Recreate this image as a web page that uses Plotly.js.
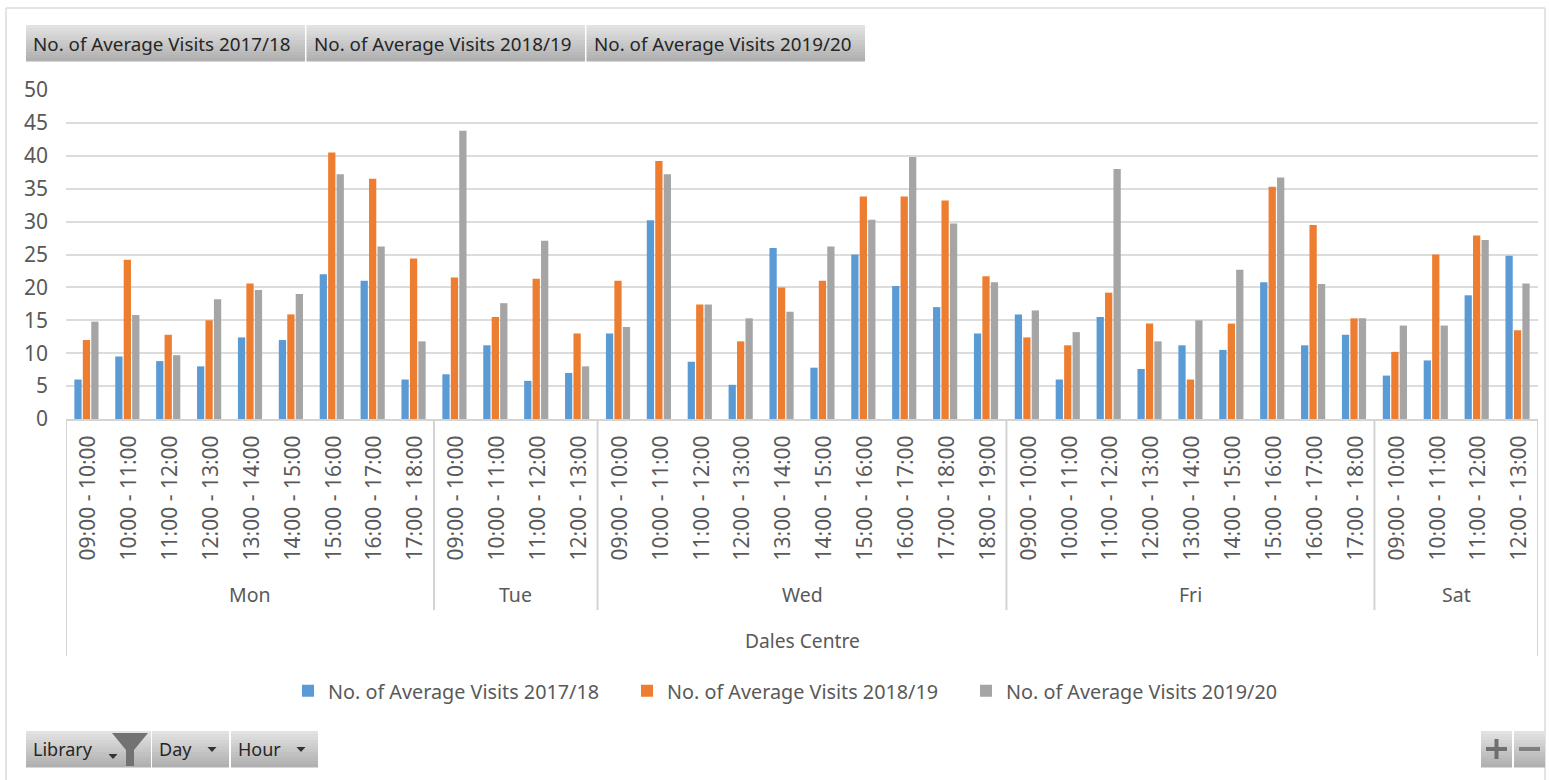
<!DOCTYPE html>
<html><head><meta charset="utf-8">
<script src="https://cdn.plot.ly/plotly-3.0.1.min.js"></script>
<style>html,body{margin:0;padding:0;background:#fff;overflow:hidden}#c{width:1549px;height:780px}</style>
</head><body><div id="c"></div>
<script>
const seriesNames = ['No. of Average Visits 2017/18','No. of Average Visits 2018/19','No. of Average Visits 2019/20'];
const seriesColors = ['#5b9bd5','#ed7d31','#a5a5a5'];
const hours = [
 '09:00 - 10:00','10:00 - 11:00','11:00 - 12:00','12:00 - 13:00','13:00 - 14:00','14:00 - 15:00','15:00 - 16:00','16:00 - 17:00','17:00 - 18:00',
 '09:00 - 10:00','10:00 - 11:00','11:00 - 12:00','12:00 - 13:00',
 '09:00 - 10:00','10:00 - 11:00','11:00 - 12:00','12:00 - 13:00','13:00 - 14:00','14:00 - 15:00','15:00 - 16:00','16:00 - 17:00','17:00 - 18:00','18:00 - 19:00',
 '09:00 - 10:00','10:00 - 11:00','11:00 - 12:00','12:00 - 13:00','13:00 - 14:00','14:00 - 15:00','15:00 - 16:00','16:00 - 17:00','17:00 - 18:00',
 '09:00 - 10:00','10:00 - 11:00','11:00 - 12:00','12:00 - 13:00'];
const days = ['Mon','Tue','Wed','Fri','Sat'];
const dayCounts = [9,4,10,9,4];
const centre = 'Dales Centre';
const visits1718 = [6,9.5,8.8,8,12.4,12,22,21,6, 6.8,11.2,5.8,7, 13,30.2,8.7,5.2,26,7.8,25,20.2,17,13, 15.9,6,15.5,7.6,11.2,10.5,20.8,11.2,12.8, 6.6,8.9,18.8,24.8];
const visits1819 = [12,24.2,12.8,15,20.6,15.9,40.5,36.5,24.4, 21.5,15.5,21.3,13, 21,39.2,17.4,11.8,20,21,33.8,33.8,33.2,21.7, 12.4,11.2,19.2,14.5,6,14.5,35.3,29.5,15.3, 10.2,25,27.9,13.5];
const visits1920 = [14.8,15.8,9.7,18.2,19.6,19,37.2,26.2,11.8, 43.8,17.6,27.1,8, 14,37.2,17.4,15.3,16.3,26.2,30.3,39.8,29.7,20.8, 16.5,13.2,38,11.8,15,22.7,36.7,20.5,15.3, 14.2,14.2,27.2,20.6];
const allSeries = [visits1718,visits1819,visits1920];

const W=1549,H=780,FONT='"Noto Sans", sans-serif',TXT='#595959',LINE='#d4d4d4';
const idx = hours.map((_,i)=>i);
const traces = allSeries.map((v,i)=>({type:'bar',x:idx,y:v,name:seriesNames[i],marker:{color:seriesColors[i],line:{width:0}},hoverinfo:'y+name'}));

const m={l:66,r:11,t:90,b:361};
const PW=W-m.l-m.r,PH=H-m.t-m.b;
const fx=x=>(x-m.l)/PW, fy=y=>(H-m.b-y)/PH;
const shapes=[],annotations=[];
function rect(x0,y0,x1,y1,color){shapes.push({type:'rect',xref:'paper',yref:'paper',x0:fx(x0),x1:fx(x1),y0:fy(y0),y1:fy(y1),fillcolor:color,line:{width:0},layer:'above'});}
function seg(x0,y0,x1,y1,color,w){shapes.push({type:'line',xref:'paper',yref:'paper',x0:fx(x0),x1:fx(x1),y0:fy(y0),y1:fy(y1),line:{color:color,width:w},layer:'above'});}
function label(t,x,y,size,color,anchor){annotations.push({text:t,xref:'paper',yref:'paper',x:fx(x),y:fy(y),xanchor:anchor||'left',yanchor:'middle',showarrow:false,font:{family:FONT,size:size,color:color}});}
function button(x0,y0,x1,y1){
  const n=12;const a=[226,226,226],b=[176,176,176];
  for(let i=0;i<n;i++){const t=i/(n-1);const c=a.map((v,k)=>Math.round(v+(b[k]-v)*t));
    rect(x0,y0+(y1-y0)*i/n,x1,y0+(y1-y0)*(i+1)/n+0.5,`rgb(${c.join(',')})`);}
}
// frame
seg(6,8,1545,8,'#e3e3e3',2); seg(6,8,6,780,'#e3e3e3',2); seg(1545,8,1545,780,'#e3e3e3',2);
// top buttons
[[26,305],[306.5,585],[586.5,865]].forEach((b,i)=>{button(b[0],25,b[1],61);label(seriesNames[i],b[0]+5,44,18.8,'#262626');});
// bottom buttons
[[26,151,'Library',31],[152,229,'Day',157],[231,318,'Hour',236]].forEach(b=>{button(b[0],731,b[1],767);label(b[2],b[3],749,18,'#262626');});
function tri(x,y,w,h,c){shapes.push({type:'path',xref:'paper',yref:'paper',path:`M${fx(x-w/2)},${fy(y)} L${fx(x+w/2)},${fy(y)} L${fx(x)},${fy(y+h)} Z`,fillcolor:c,line:{width:0},layer:'above'});}
tri(113,754,9,5,'#333'); tri(212,747,9,5,'#333'); tri(301,747,9,5,'#333');
// filter icon
shapes.push({type:'path',xref:'paper',yref:'paper',path:`M${fx(112)},${fy(733)} L${fx(148)},${fy(733)} L${fx(134)},${fy(750)} L${fx(134)},${fy(766)} L${fx(126)},${fy(766)} L${fx(126)},${fy(750)} Z`,fillcolor:'#727272',line:{width:0},layer:'above'});
// zoom buttons
button(1481,731,1512,767); button(1514,731,1545,767);
seg(1486,749,1507,749,'#6f6f6f',4); seg(1496.5,739,1496.5,759,'#6f6f6f',4); seg(1519,749,1540,749,'#7f7f7f',4);

// category hierarchy
let pos=0;
const boundary=v=>shapes.push({type:'line',xref:'x',yref:'paper',x0:v,x1:v,y0:fy(419),y1:fy(610),line:{color:LINE,width:2},layer:'above'});
days.forEach((d,i)=>{
  const start=pos-0.5,end=pos+dayCounts[i]-0.5;
  annotations.push({text:d,xref:'x',yref:'paper',x:(start+end)/2,y:fy(594.5),xanchor:'center',yanchor:'middle',showarrow:false,font:{family:FONT,size:19.5,color:TXT}});
  if(i>0) boundary(start);
  pos+=dayCounts[i];
});
[-0.5,35.5].forEach(v=>shapes.push({type:'line',xref:'x',yref:'paper',x0:v,x1:v,y0:fy(419),y1:fy(656),line:{color:LINE,width:2},layer:'above'}));
annotations.push({text:centre,xref:'x',yref:'paper',x:17.5,y:fy(640.5),xanchor:'center',yanchor:'middle',showarrow:false,font:{family:FONT,size:19.2,color:TXT}});

const layout={width:W,height:H,margin:{l:m.l,r:m.r,t:m.t,b:m.b,pad:0},paper_bgcolor:'#fff',plot_bgcolor:'#fff',
 barmode:'group',bargap:0.38,bargroupgap:0.14,showlegend:true,
 font:{family:FONT,color:TXT},
 legend:{orientation:'h',x:fx(288),y:fy(691),xanchor:'left',yanchor:'middle',font:{family:FONT,size:19.8,color:TXT},itemwidth:30,traceorder:'normal',entrywidth:294,entrywidthmode:'pixels',itemsizing:'constant'},
 xaxis:{type:'linear',range:[-0.5,35.5],tickmode:'array',tickvals:idx,ticktext:hours,tickangle:-90,ticklabelshift:2,tickfont:{family:FONT,size:21,color:TXT},ticks:'',showgrid:false,zeroline:false,showline:true,linecolor:LINE,linewidth:2,ticklabelstandoff:6,automargin:false},
 yaxis:{range:[0,50],tickmode:'array',tickvals:[0,5,10,15,20,25,30,35,40,45,50],tickfont:{family:FONT,size:21,color:TXT},gridcolor:'#dcdcdc',gridwidth:2,zeroline:false,showline:false,ticks:'',ticklabelstandoff:17,automargin:false},
 shapes:shapes,annotations:annotations};
Plotly.newPlot('c',traces,layout,{displayModeBar:false,responsive:false});
</script></body></html>
